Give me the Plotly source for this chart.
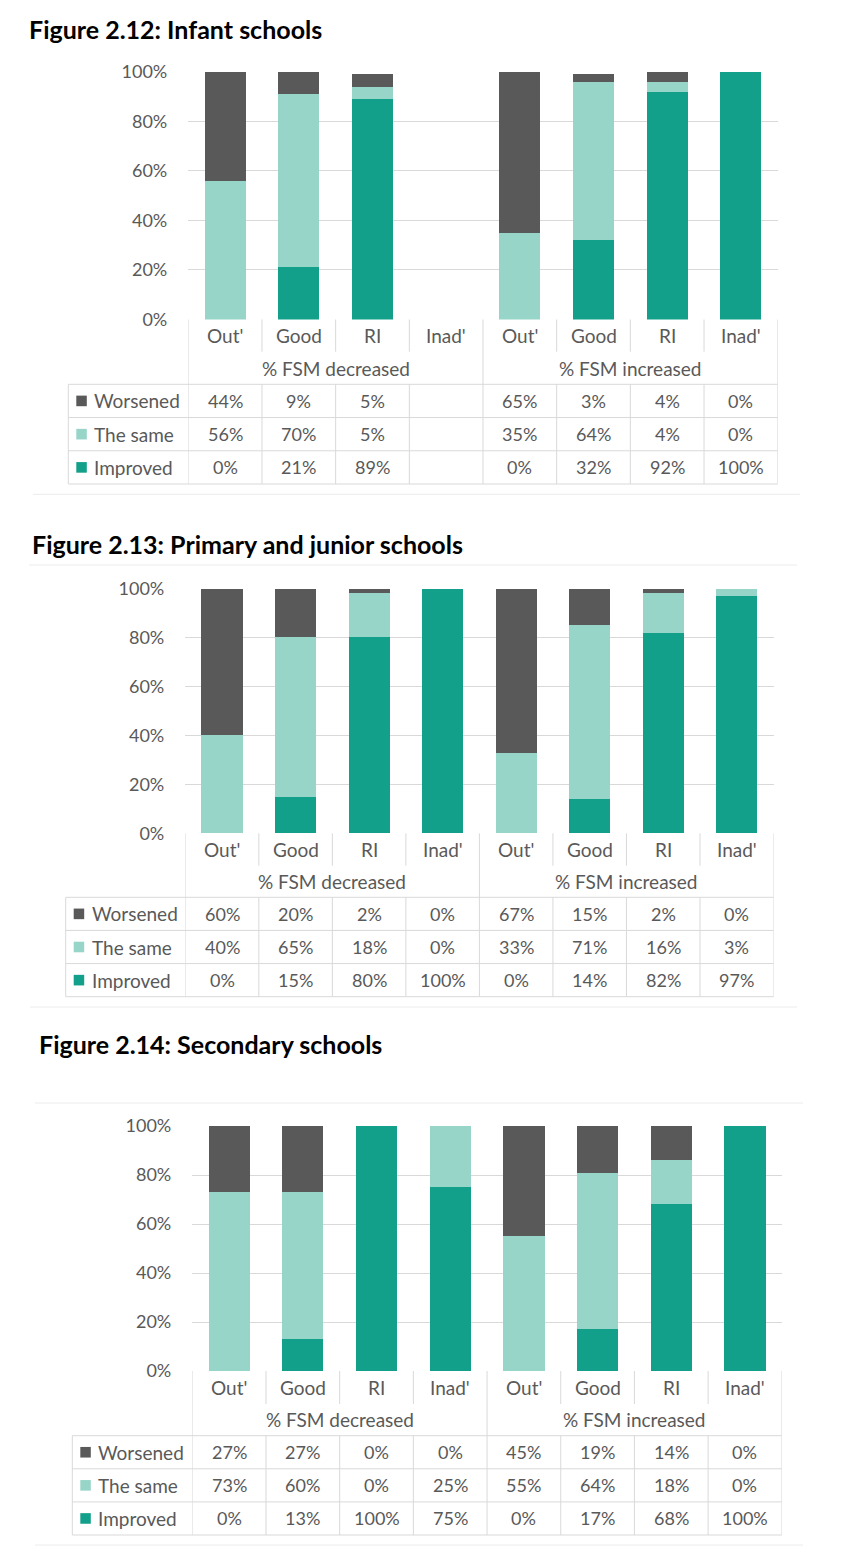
import plotly.graph_objects as go

# ---------------- data ----------------
categories = ["Out'", "Good", "RI", "Inad'", "Out'", "Good", "RI", "Inad'"]
groups = ["% FSM decreased", "% FSM increased"]
series_names = ["Worsened", "The same", "Improved"]
y_ticks = [0, 20, 40, 60, 80, 100]
y_tick_labels = ["0%", "20%", "40%", "60%", "80%", "100%"]

titles = ["Figure 2.12: Infant schools",
          "Figure 2.13: Primary and junior schools",
          "Figure 2.14: Secondary schools"]

infant_worsened = [44, 9, 5, None, 65, 3, 4, 0]
infant_same = [56, 70, 5, None, 35, 64, 4, 0]
infant_improved = [0, 21, 89, None, 0, 32, 92, 100]

primary_worsened = [60, 20, 2, 0, 67, 15, 2, 0]
primary_same = [40, 65, 18, 0, 33, 71, 16, 3]
primary_improved = [0, 15, 80, 100, 0, 14, 82, 97]

secondary_worsened = [27, 27, 0, 0, 45, 19, 14, 0]
secondary_same = [73, 60, 0, 25, 55, 64, 18, 0]
secondary_improved = [0, 13, 100, 75, 0, 17, 68, 100]

panels_data = [
    (infant_worsened, infant_same, infant_improved),
    (primary_worsened, primary_same, primary_improved),
    (secondary_worsened, secondary_same, secondary_improved),
]

# ---------------- styles / layout ----------------
W, H = 841, 1562
COL = {"Worsened": "#595959", "The same": "#97D5C9", "Improved": "#12A08A"}
GRID = "#d9d9d9"
SEP = "#ececec"
TXT = "#595959"
FONT = "Lato"
NUM_SIZE = 18
WORD_SIZE = 19

panels_geo = [
    dict(title=(27, 29), top=71.7, axis=319.5, L=188.3, R=777.7, legL=68.3,
         divEnd=351.7, tTop=384.3, tBot=484.0,
         seps=[(494.3, 33, 800)]),
    dict(title=(30, 544), top=588.5, axis=833.3, L=185.3, R=773.5, legL=65.7,
         divEnd=865.7, tTop=897.3, tBot=996.7,
         seps=[(565, 29, 797), (1007, 30, 797)]),
    dict(title=(37, 1044), top=1126.0, axis=1371.0, L=192.3, R=781.8, legL=72.3,
         divEnd=1404.0, tTop=1435.7, tBot=1535.0,
         seps=[(1103, 35, 803), (1545, 35, 803)]),
]


def px(x):
    return x / W


def py(y):
    return 1 - y / H


fig = go.Figure()
shapes = []
annotations = []
xpos = list(range(len(categories)))

for i, (geo, (wors, same, impr)) in enumerate(zip(panels_geo, panels_data)):
    sfx = "" if i == 0 else str(i + 1)
    xa, ya = "x" + sfx, "y" + sfx
    for name, vals in (("Improved", impr), ("The same", same), ("Worsened", wors)):
        fig.add_trace(go.Bar(
            x=xpos, y=vals, name=name, marker=dict(color=COL[name], line=dict(width=0)),
            width=0.56, xaxis=xa, yaxis=ya, showlegend=False, hoverinfo="skip"))

    fig.update_layout(**{
        "xaxis" + sfx: dict(domain=[px(geo["L"]), px(geo["R"])], range=[-0.5, 7.5],
                            showticklabels=False, showgrid=False, zeroline=False,
                            fixedrange=True, anchor=ya, automargin=False),
        "yaxis" + sfx: dict(domain=[py(geo["axis"]), py(geo["top"])], range=[0, 100],
                            tickvals=y_ticks, ticktext=y_tick_labels, showgrid=True,
                            gridcolor=GRID, gridwidth=1, zeroline=False, ticks="",
                            ticklabelstandoff=20, automargin=False, fixedrange=True,
                            tickfont=dict(family=FONT, size=NUM_SIZE, color=TXT),
                            anchor=xa),
    })

    # title
    annotations.append(dict(x=px(geo["title"][0]), y=py(geo["title"][1]), xref="paper",
                            yref="paper", xanchor="left", yanchor="middle", showarrow=False,
                            text="<b>" + titles[i] + "</b>",
                            font=dict(family=FONT, size=25, color="#000000")))

    # separator lines
    for (yy, x0, x1) in geo["seps"]:
        shapes.append(dict(type="line", xref="paper", yref="paper", x0=px(x0), x1=px(x1),
                           y0=py(yy), y1=py(yy), line=dict(color=SEP, width=1)))

    ax, dv, tt, tb = geo["axis"], geo["divEnd"], geo["tTop"], geo["tBot"]
    rh = (tb - tt) / 3
    line = dict(color=GRID, width=1)

    # vertical borders
    for b in [-0.5, 3.5, 7.5]:
        shapes.append(dict(type="line", xref=xa, yref="paper", x0=b, x1=b,
                           y0=py(ax), y1=py(tb), line=line))
    for b in [0.5, 1.5, 2.5, 4.5, 5.5, 6.5]:
        shapes.append(dict(type="line", xref=xa, yref="paper", x0=b, x1=b,
                           y0=py(ax), y1=py(dv), line=line))
        shapes.append(dict(type="line", xref=xa, yref="paper", x0=b, x1=b,
                           y0=py(tt), y1=py(tb), line=line))
    # legend column left border
    shapes.append(dict(type="line", xref="paper", yref="paper", x0=px(geo["legL"]),
                       x1=px(geo["legL"]), y0=py(tt), y1=py(tb), line=line))
    # horizontal rows
    for r in range(4):
        yy = tt + r * rh
        shapes.append(dict(type="line", xref="paper", yref="paper", x0=px(geo["legL"]),
                           x1=px(geo["R"]), y0=py(yy), y1=py(yy), line=line))

    # category labels
    for k, c in enumerate(categories):
        annotations.append(dict(x=k, y=py((ax + dv) / 2 - 0.5), xref=xa, yref="paper",
                                text=c, showarrow=False, xanchor="center", yanchor="middle",
                                font=dict(family=FONT, size=WORD_SIZE, color=TXT)))
    for g, gx in zip(groups, [1.5, 5.5]):
        annotations.append(dict(x=gx, y=py((dv + tt) / 2), xref=xa, yref="paper",
                                text=g, showarrow=False, xanchor="center", yanchor="middle",
                                font=dict(family=FONT, size=WORD_SIZE, color=TXT)))

    # table rows
    for r, (name, vals) in enumerate(zip(series_names, (wors, same, impr))):
        yc = tt + rh * (r + 0.5)
        lx = geo["legL"]
        shapes.append(dict(type="rect", xref="paper", yref="paper", x0=px(lx + 8),
                           x1=px(lx + 18.5), y0=py(yc - 5.3), y1=py(yc + 5.3),
                           fillcolor=COL[name], line=dict(width=0)))
        annotations.append(dict(x=px(lx + 24), y=py(yc), xref="paper", yref="paper",
                                text=name, showarrow=False, xanchor="left", yanchor="middle",
                                font=dict(family=FONT, size=WORD_SIZE, color=TXT)))
        for k, v in enumerate(vals):
            if v is None:
                continue
            annotations.append(dict(x=k, y=py(yc), xref=xa, yref="paper",
                                    text=f"{v}%", showarrow=False, xanchor="center",
                                    yanchor="middle",
                                    font=dict(family=FONT, size=NUM_SIZE, color=TXT)))

fig.update_layout(width=W, height=H,
                  margin=dict(l=0, r=0, t=0, b=0, pad=0, autoexpand=False),
                  paper_bgcolor="white", plot_bgcolor="white", barmode="stack",
                  bargap=0, shapes=shapes, annotations=annotations,
                  font=dict(family=FONT, color=TXT))

fig.write_html("out.html",
               config={"displayModeBar": False, "staticPlot": True},
               post_script="document.body.style.margin='0';"
                           "document.body.style.padding='0';"
                           "document.documentElement.style.overflow='hidden';")
